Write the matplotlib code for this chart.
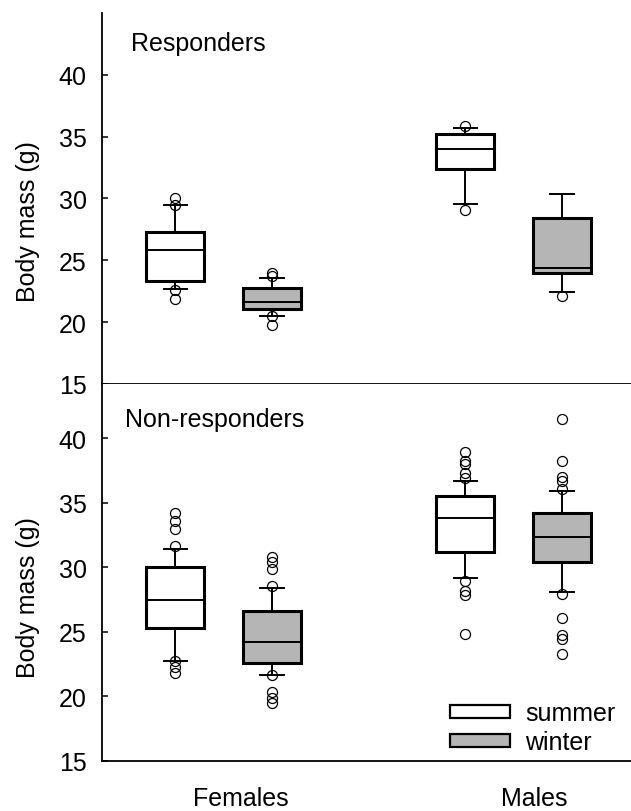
import matplotlib
matplotlib.use("Agg")
import matplotlib.pyplot as plt
from matplotlib.patches import Patch

plt.rcParams['font.family'] = ['Liberation Sans', 'DejaVu Sans']

groups = ["Females", "Males"]
seasons = ["summer", "winter"]
season_colors = ["white", "#b5b5b5"]

# Responders: F-summer, F-winter, M-summer, M-winter
resp_q1 = [23.3, 21.1, 32.4, 24.0]
resp_med = [25.85, 21.6, 34.0, 24.35]
resp_q3 = [27.3, 22.8, 35.2, 28.45]
resp_lo = [22.65, 20.5, 29.55, 22.45]
resp_hi = [29.45, 23.6, 35.7, 30.35]
resp_fliers = [[30.05, 29.5, 22.6, 21.9],
               [24.0, 23.75, 20.5, 19.75],
               [35.9, 29.05],
               [22.1]]

# Non-responders
non_q1 = [25.3, 22.6, 31.2, 30.4]
non_med = [27.45, 24.25, 33.8, 32.35]
non_q3 = [30.05, 26.65, 35.55, 34.2]
non_lo = [22.75, 21.65, 29.15, 28.05]
non_hi = [31.45, 28.4, 36.65, 35.9]
non_fliers = [[31.65, 33.0, 33.6, 34.2, 22.75, 22.25, 21.85],
              [28.55, 29.9, 30.4, 30.8, 21.65, 20.35, 19.9, 19.5],
              [36.9, 37.3, 38.0, 38.2, 38.9, 28.95, 28.2, 27.85, 24.8],
              [36.05, 36.7, 37.0, 38.2, 41.5, 27.9, 26.1, 24.75, 24.45, 23.3]]

positions = [1 - 0.167, 1 + 0.167, 2 - 0.167, 2 + 0.167]
fills = season_colors * 2
FS = 18

fig = plt.figure(figsize=(6.31, 8.12), dpi=100)
ax_top = fig.add_axes([0.1617, 0.5259, 0.8383, 0.4569])
ax_bot = fig.add_axes([0.1617, 0.0616, 0.8383, 0.4643])


def draw(ax, q1, med, q3, lo, hi, fliers):
    stats = []
    for i in range(4):
        stats.append(dict(q1=q1[i], med=med[i], q3=q3[i], whislo=lo[i],
                          whishi=hi[i], fliers=fliers[i]))
    bp = ax.bxp(stats, positions=positions, widths=0.2, patch_artist=True,
                showfliers=True, capwidths=0.08,
                boxprops=dict(linewidth=2.2, edgecolor="black"),
                medianprops=dict(color="black", linewidth=1.4),
                whiskerprops=dict(color="black", linewidth=1.4),
                capprops=dict(color="black", linewidth=1.4),
                flierprops=dict(marker="o", markerfacecolor="none",
                                markeredgecolor="black", markersize=7.2,
                                markeredgewidth=0.9))
    for patch, c in zip(bp["boxes"], fills):
        patch.set_facecolor(c)
    ax.set_xlim(0.581, 2.405)
    ax.set_yticks([15, 20, 25, 30, 35, 40])
    ax.tick_params(axis="y", direction="in", length=4, width=1.1,
                   labelsize=FS, pad=11)
    ax.spines["top"].set_visible(False)
    ax.spines["right"].set_visible(False)
    ax.spines["left"].set_linewidth(1.3)
    ax.spines["bottom"].set_linewidth(1.3)


draw(ax_top, resp_q1, resp_med, resp_q3, resp_lo, resp_hi, resp_fliers)
ax_top.set_ylim(15, 45)
ax_top.set_xticks([])
ax_top.set_ylabel("Body mass (g)", fontsize=FS)
ax_top.yaxis.set_label_coords(-0.117, 0.44)
ax_top.text(0.054, 0.9, "Responders", transform=ax_top.transAxes,
            fontsize=FS, va="baseline", ha="left")

draw(ax_bot, non_q1, non_med, non_q3, non_lo, non_hi, non_fliers)
ax_bot.set_ylim(15, 44.2)
ax_bot.set_xticks([1.06, 2.07])
ax_bot.set_xticklabels(groups, fontsize=FS)
ax_bot.tick_params(axis="x", length=0, pad=18)
ax_bot.set_ylabel("Body mass (g)", fontsize=FS)
ax_bot.yaxis.set_label_coords(-0.117, 0.435)
ax_bot.text(0.044, 0.889, "Non-responders", transform=ax_bot.transAxes,
            fontsize=FS, va="baseline", ha="left")

handles = [Patch(facecolor=c, edgecolor="black", linewidth=1.6, label=s)
           for c, s in zip(season_colors, seasons)]
ax_bot.legend(handles=handles, loc="lower left", frameon=False, fontsize=FS,
              handlelength=2.4, handleheight=0.4, handletextpad=0.6,
              labelspacing=0.2, borderpad=0, borderaxespad=0,
              bbox_to_anchor=(0.658, 0.018))

fig.savefig("out.png", dpi=100)
